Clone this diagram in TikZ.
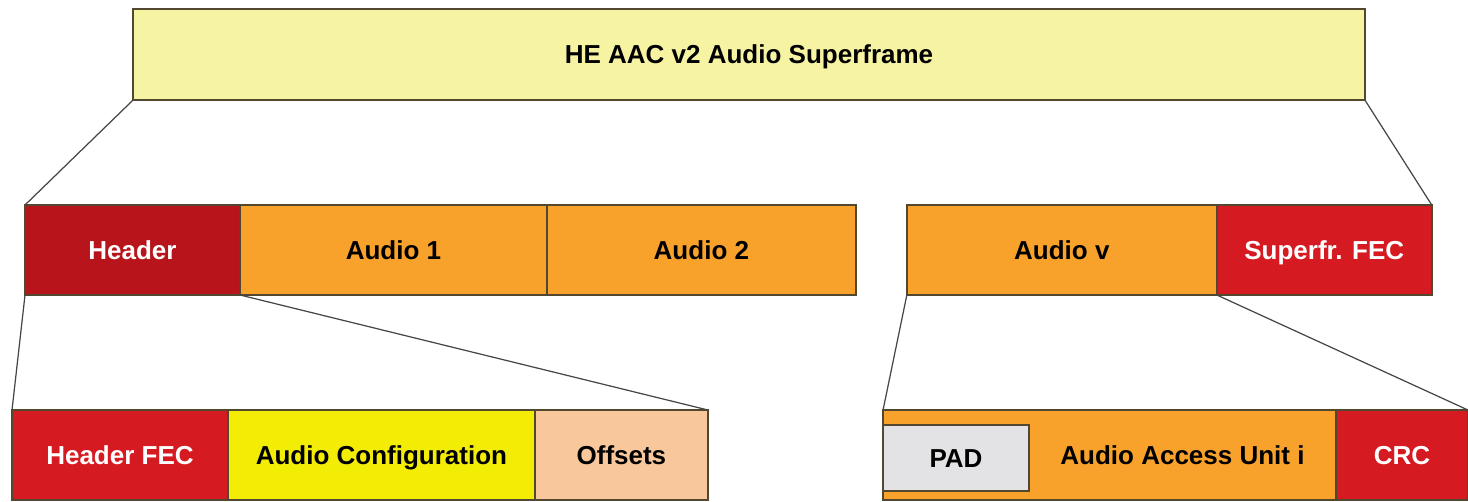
\documentclass[tikz,border=0pt]{standalone}
\usepackage{fontspec}
\setmainfont{Liberation Sans}
\usepackage{tikz}
\usetikzlibrary{positioning}
\definecolor{edge}{RGB}{82, 72, 48}
\definecolor{zoomgray}{RGB}{70, 70, 70}
\definecolor{superyellow}{RGB}{246, 243, 163}
\definecolor{hdrred}{RGB}{183, 20, 28}
\definecolor{audioorange}{RGB}{248, 162, 43}
\definecolor{fecred}{RGB}{214, 26, 33}
\definecolor{cfgyellow}{RGB}{243, 236, 5}
\definecolor{ofspeach}{RGB}{248, 200, 156}
\definecolor{padgray}{RGB}{227, 227, 229}

\begin{document}
\begin{tikzpicture}[
    x=0.02cm, y=-0.02cm,
    fieldtext/.style={font=\fontsize{14.8}{16}\selectfont\bfseries,
        text height=10.6pt, text depth=0pt},
    field/.style={rectangle, draw=edge, line width=0.9pt, inner sep=0pt,
        outer sep=0pt, minimum height=1.8cm, text=black, fieldtext},
    redfield/.style={field, text=white},
    zoomline/.style={draw=zoomgray, line width=0.7pt}
]
\useasboundingbox (0,0) rectangle (1468,502);

% superframe
\node[field, fill=superyellow, minimum width=24.64cm, minimum height=1.82cm] (sf) at (749,54.5) {HE AAC v2 Audio Superframe};

% middle row
\node[redfield, fill=hdrred, minimum width=4.3cm] (hdr) at (132.5,250) {Header};
\node[field, fill=audioorange, minimum width=6.14cm, right=0pt of hdr] (a1) {Audio 1};
\node[field, fill=audioorange, minimum width=6.18cm, right=0pt of a1] (a2) {Audio 2};
\node[field, fill=audioorange, minimum width=6.2cm, right=1.02cm of a2] (av) {Audio v};
\node[redfield, fill=fecred, minimum width=4.3cm, right=0pt of av] (fec) {Superfr. FEC};

% header detail
\node[redfield, fill=fecred, minimum width=4.32cm] (hfec) at (120,455) {Header FEC};
\node[field, fill=cfgyellow, minimum width=6.14cm, right=0pt of hfec] (cfg) {Audio Configuration};
\node[field, fill=ofspeach, minimum width=3.46cm, right=0pt of cfg] (ofs) {Offsets};

% audio access unit detail
\node[field, fill=audioorange, minimum width=9.06cm,
    label={[xshift=1.46cm, fieldtext]center:Audio Access Unit i}] (au) at (1109.5,455) {};
\node[field, fill=padgray, minimum width=2.92cm, minimum height=1.32cm] (pad) at (956,458) {PAD};
\node[redfield, fill=fecred, minimum width=2.64cm, right=0pt of au] (crc) {CRC};

% zoom lines
\draw[zoomline] (sf.south west) -- (hdr.north west);
\draw[zoomline] (sf.south east) -- (fec.north east);
\draw[zoomline] (hdr.south west) -- (hfec.north west);
\draw[zoomline] (hdr.south east) -- (ofs.north east);
\draw[zoomline] (av.south west) -- (au.north west);
\draw[zoomline] (av.south east) -- (crc.north east);

\end{tikzpicture}
\end{document}
